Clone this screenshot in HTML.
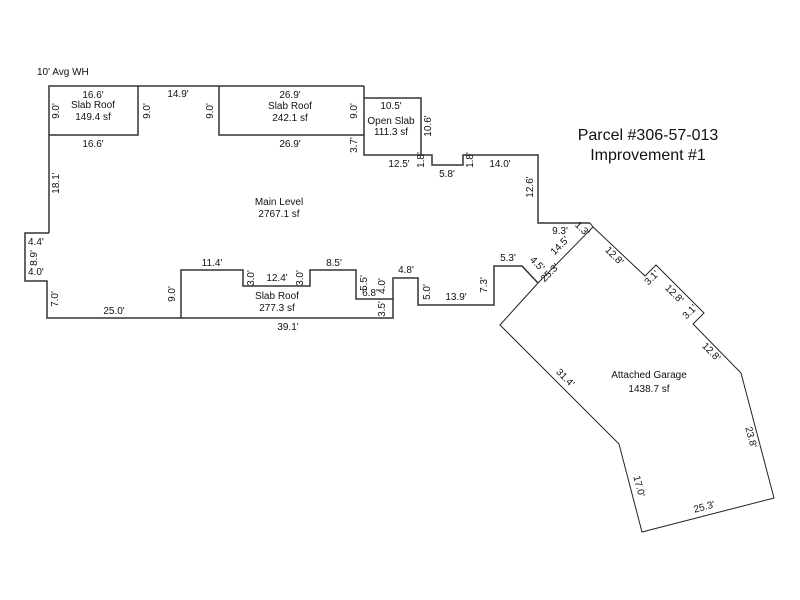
<!DOCTYPE html>
<html><head><style>
body{margin:0;background:#fff;}
svg{display:block;}
text{font-family:"Liberation Sans",Arial,sans-serif;font-size:10px;fill:#111;}
</style></head><body>
<svg width="800" height="600" viewBox="0 0 800 600">
<g fill="none" stroke="#333" stroke-width="1.5">
<polyline points="49,233 49,86 364,86"/>
<polyline points="49,135 138,135 138,86"/>
<polyline points="219,86 219,135 364,135 364,86"/>
<polyline points="364,98 421,98 421,155 364,155 364,135"/>
<polyline points="421,155 432,155 432,165 463,165 463,155 538,155 538,223 590,223"/>
<polyline points="49,233 25,233 25,281 47,281 47,318 393,318 393,278 418,278 418,305 494,305 494,266 522,266 538,283"/>
<polyline points="181,318 181,270 243,270 243,286 310,286 310,270 356,270 356,299 393,299"/>
</g>
<g fill="none" stroke="#222" stroke-width="1">
<polyline points="538,283 593,227 590,223"/>
<polyline points="593,227 645,276 656,265 704,313 693,324 741,373 774,498 642,532 619,444 500,325 538,283"/>
</g>
<text x="37" y="75">10' Avg WH</text>
<text x="93" y="98" text-anchor="middle">16.6'</text>
<text x="93" y="108" text-anchor="middle">Slab Roof</text>
<text x="93" y="120" text-anchor="middle">149.4 sf</text>
<text x="93" y="147" text-anchor="middle">16.6'</text>
<text x="178" y="97" text-anchor="middle">14.9'</text>
<text x="290" y="98" text-anchor="middle">26.9'</text>
<text x="290" y="109" text-anchor="middle">Slab Roof</text>
<text x="290" y="121" text-anchor="middle">242.1 sf</text>
<text x="290" y="147" text-anchor="middle">26.9'</text>
<text x="391" y="109" text-anchor="middle">10.5'</text>
<text x="391" y="124" text-anchor="middle">Open Slab</text>
<text x="391" y="135" text-anchor="middle">111.3 sf</text>
<text x="399" y="167" text-anchor="middle">12.5'</text>
<text x="447" y="177" text-anchor="middle">5.8'</text>
<text x="500" y="167" text-anchor="middle">14.0'</text>
<text x="279" y="205" text-anchor="middle">Main Level</text>
<text x="279" y="217" text-anchor="middle">2767.1 sf</text>
<text x="560" y="234" text-anchor="middle">9.3'</text>
<text x="212" y="266" text-anchor="middle">11.4'</text>
<text x="277" y="281" text-anchor="middle">12.4'</text>
<text x="334" y="266" text-anchor="middle">8.5'</text>
<text x="277" y="299" text-anchor="middle">Slab Roof</text>
<text x="277" y="311" text-anchor="middle">277.3 sf</text>
<text x="288" y="330" text-anchor="middle">39.1'</text>
<text x="114" y="314" text-anchor="middle">25.0'</text>
<text x="406" y="273" text-anchor="middle">4.8'</text>
<text x="456" y="300" text-anchor="middle">13.9'</text>
<text x="508" y="261" text-anchor="middle">5.3'</text>
<text x="370" y="296" text-anchor="middle">6.8'</text>
<text x="28" y="245">4.4'</text>
<text x="28" y="275">4.0'</text>
<text x="649" y="378" text-anchor="middle">Attached Garage</text>
<text x="649" y="392" text-anchor="middle">1438.7 sf</text>
<g text-anchor="middle">
<text transform="translate(59,111) rotate(-90)">9.0'</text>
<text transform="translate(150,111) rotate(-90)">9.0'</text>
<text transform="translate(213,111) rotate(-90)">9.0'</text>
<text transform="translate(357,111) rotate(-90)">9.0'</text>
<text transform="translate(357,145) rotate(-90)">3.7'</text>
<text transform="translate(431,126) rotate(-90)">10.6'</text>
<text transform="translate(424,160) rotate(-90)">1.8'</text>
<text transform="translate(473,160) rotate(-90)">1.8'</text>
<text transform="translate(533,187) rotate(-90)">12.6'</text>
<text transform="translate(59,183) rotate(-90)">18.1'</text>
<text transform="translate(37,258) rotate(-90)">8.9'</text>
<text transform="translate(58,299) rotate(-90)">7.0'</text>
<text transform="translate(175,294) rotate(-90)">9.0'</text>
<text transform="translate(254,278) rotate(-90)">3.0'</text>
<text transform="translate(303,278) rotate(-90)">3.0'</text>
<text transform="translate(367,283) rotate(-90)">5.5'</text>
<text transform="translate(385,286) rotate(-90)">4.0'</text>
<text transform="translate(385,309) rotate(-90)">3.5'</text>
<text transform="translate(430,292) rotate(-90)">5.0'</text>
<text transform="translate(487,285) rotate(-90)">7.3'</text>
<text transform="translate(535,266) rotate(45)">4.5'</text>
<text transform="translate(562,248) rotate(-45)">14.5'</text>
<text transform="translate(580,231) rotate(45)">1.3'</text>
<text transform="translate(552,275) rotate(-45)">25.3'</text>
<text transform="translate(612,258) rotate(45)">12.8'</text>
<text transform="translate(654,280) rotate(-45)">3.1'</text>
<text transform="translate(672,296) rotate(45)">12.8'</text>
<text transform="translate(692,314) rotate(-45)">3.1'</text>
<text transform="translate(709,354) rotate(45)">12.8'</text>
<text transform="translate(563,380) rotate(45)">31.4'</text>
<text transform="translate(748,438) rotate(75)">23.8'</text>
<text transform="translate(636,487) rotate(75)">17.0'</text>
<text transform="translate(705,510) rotate(-15)">25.3'</text>
</g>
<text x="648" y="140" text-anchor="middle" style="font-size:16px">Parcel #306-57-013</text>
<text x="648" y="160" text-anchor="middle" style="font-size:16px">Improvement #1</text>
</svg>
</body></html>
